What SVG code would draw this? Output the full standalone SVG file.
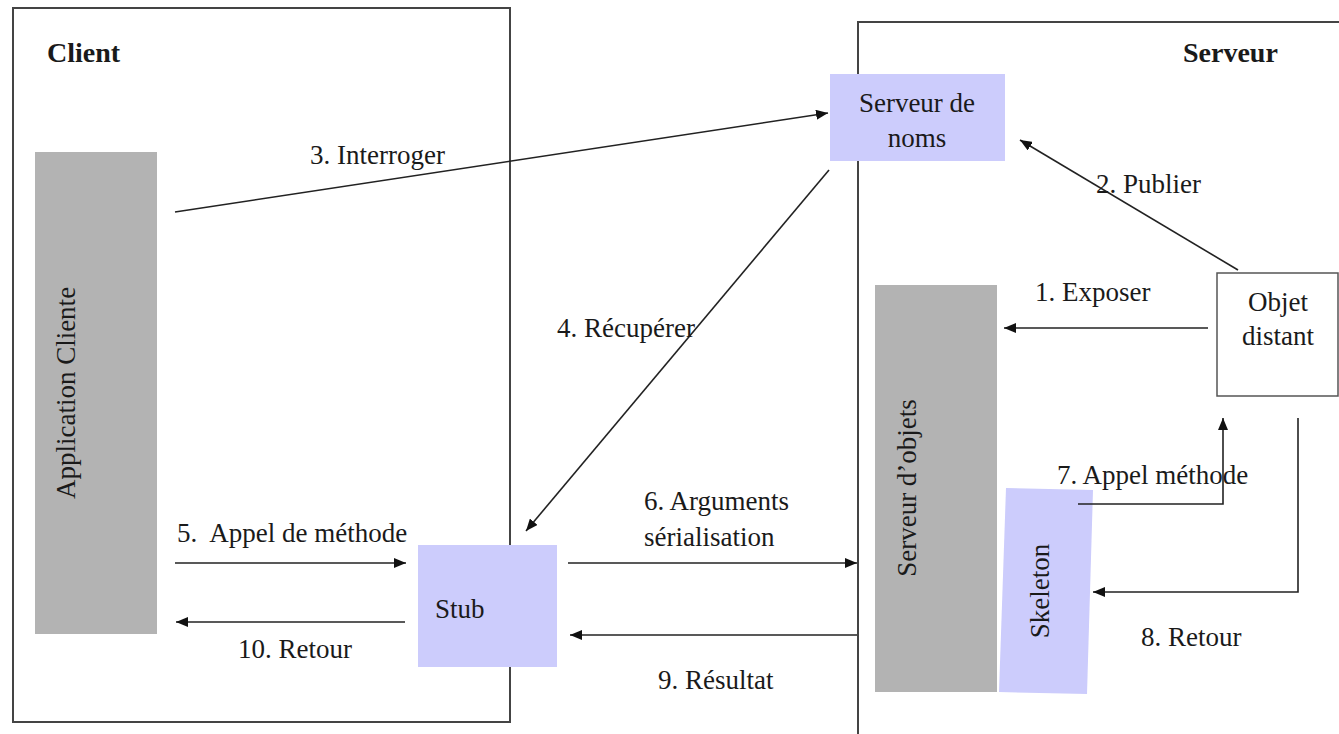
<svg xmlns="http://www.w3.org/2000/svg" width="1339" height="734" viewBox="0 0 1339 734">
<style>
text{font-family:"Liberation Serif","Times New Roman","DejaVu Serif",serif;fill:#1a1a1a;font-size:27px}
.b{font-weight:bold;font-size:28px}
.frame{fill:none;stroke:#444;stroke-width:2}
.gray{fill:#b3b3b3}
.lav{fill:#ccccfc}
.c{fill:none;stroke:#222;stroke-width:1.6;marker-end:url(#ah)}
</style>
<defs>
<marker id="ah" viewBox="0 0 12 10" refX="12" refY="5" markerWidth="12" markerHeight="10" markerUnits="userSpaceOnUse" orient="auto">
<path d="M0,0 L12,5 L0,10 z" fill="#111"/>
</marker>
</defs>
<rect width="1339" height="734" fill="#fff"/>
<g id="client">
<rect class="frame" x="13" y="8" width="497" height="714"/>
<text class="b" x="47" y="62">Client</text>
</g>
<g id="serveur">
<rect class="frame" x="858" y="22" width="500" height="730"/>
<text class="b" x="1183" y="62">Serveur</text>
</g>
<g id="app-cliente">
<rect class="gray" x="35" y="152" width="122" height="482"/>
<text transform="translate(75,393) rotate(-90)" text-anchor="middle">Application Cliente</text>
</g>
<g id="serveur-noms">
<rect class="lav" x="830" y="74" width="175" height="87"/>
<text x="917" y="112" text-anchor="middle">Serveur de</text>
<text x="917" y="147" text-anchor="middle">noms</text>
</g>
<g id="objet-distant">
<rect x="1217" y="273" width="121" height="123" fill="#fff" stroke="#555" stroke-width="1.5"/>
<text x="1278" y="311" text-anchor="middle">Objet</text>
<text x="1278" y="345" text-anchor="middle">distant</text>
</g>
<g id="serveur-objets">
<rect class="gray" x="875" y="285" width="122" height="407"/>
<text transform="translate(916,488) rotate(-90)" text-anchor="middle">Serveur d’objets</text>
</g>
<g id="skeleton">
<polygon class="lav" points="1006,488 1093,490 1087,694 999,692"/>
<text transform="translate(1049,591) rotate(-90)" text-anchor="middle">Skeleton</text>
</g>
<g id="stub">
<rect class="lav" x="418" y="545" width="139" height="122"/>
<text x="435" y="618">Stub</text>
</g>
<g id="connectors">
<line class="c" x1="175" y1="212" x2="828" y2="113"/>
<line class="c" x1="1238" y1="270" x2="1020" y2="140"/>
<line class="c" x1="1208" y1="328" x2="1004" y2="328"/>
<line class="c" x1="829" y1="170" x2="526" y2="531"/>
<line class="c" x1="175" y1="563" x2="406" y2="563"/>
<line class="c" x1="405" y1="622" x2="176" y2="622"/>
<line class="c" x1="568" y1="563" x2="857" y2="563"/>
<line class="c" x1="857" y1="635" x2="570" y2="635"/>
<polyline class="c" points="1078,504 1223,504 1223,418"/>
<polyline class="c" points="1298,418 1298,592 1093,592"/>
</g>
<g id="labels">
<text x="310" y="164">3. Interroger</text>
<text x="1096" y="193">2. Publier</text>
<text x="1035" y="301">1. Exposer</text>
<text x="557" y="337">4. Récupérer</text>
<text x="1057" y="484">7. Appel méthode</text>
<text x="1141" y="646">8. Retour</text>
<text x="177" y="542" xml:space="preserve">5.  Appel de méthode</text>
<text x="238" y="658">10. Retour</text>
<text x="644" y="510">6. Arguments</text>
<text x="644" y="546">sérialisation</text>
<text x="658" y="689">9. Résultat</text>
</g>
</svg>
